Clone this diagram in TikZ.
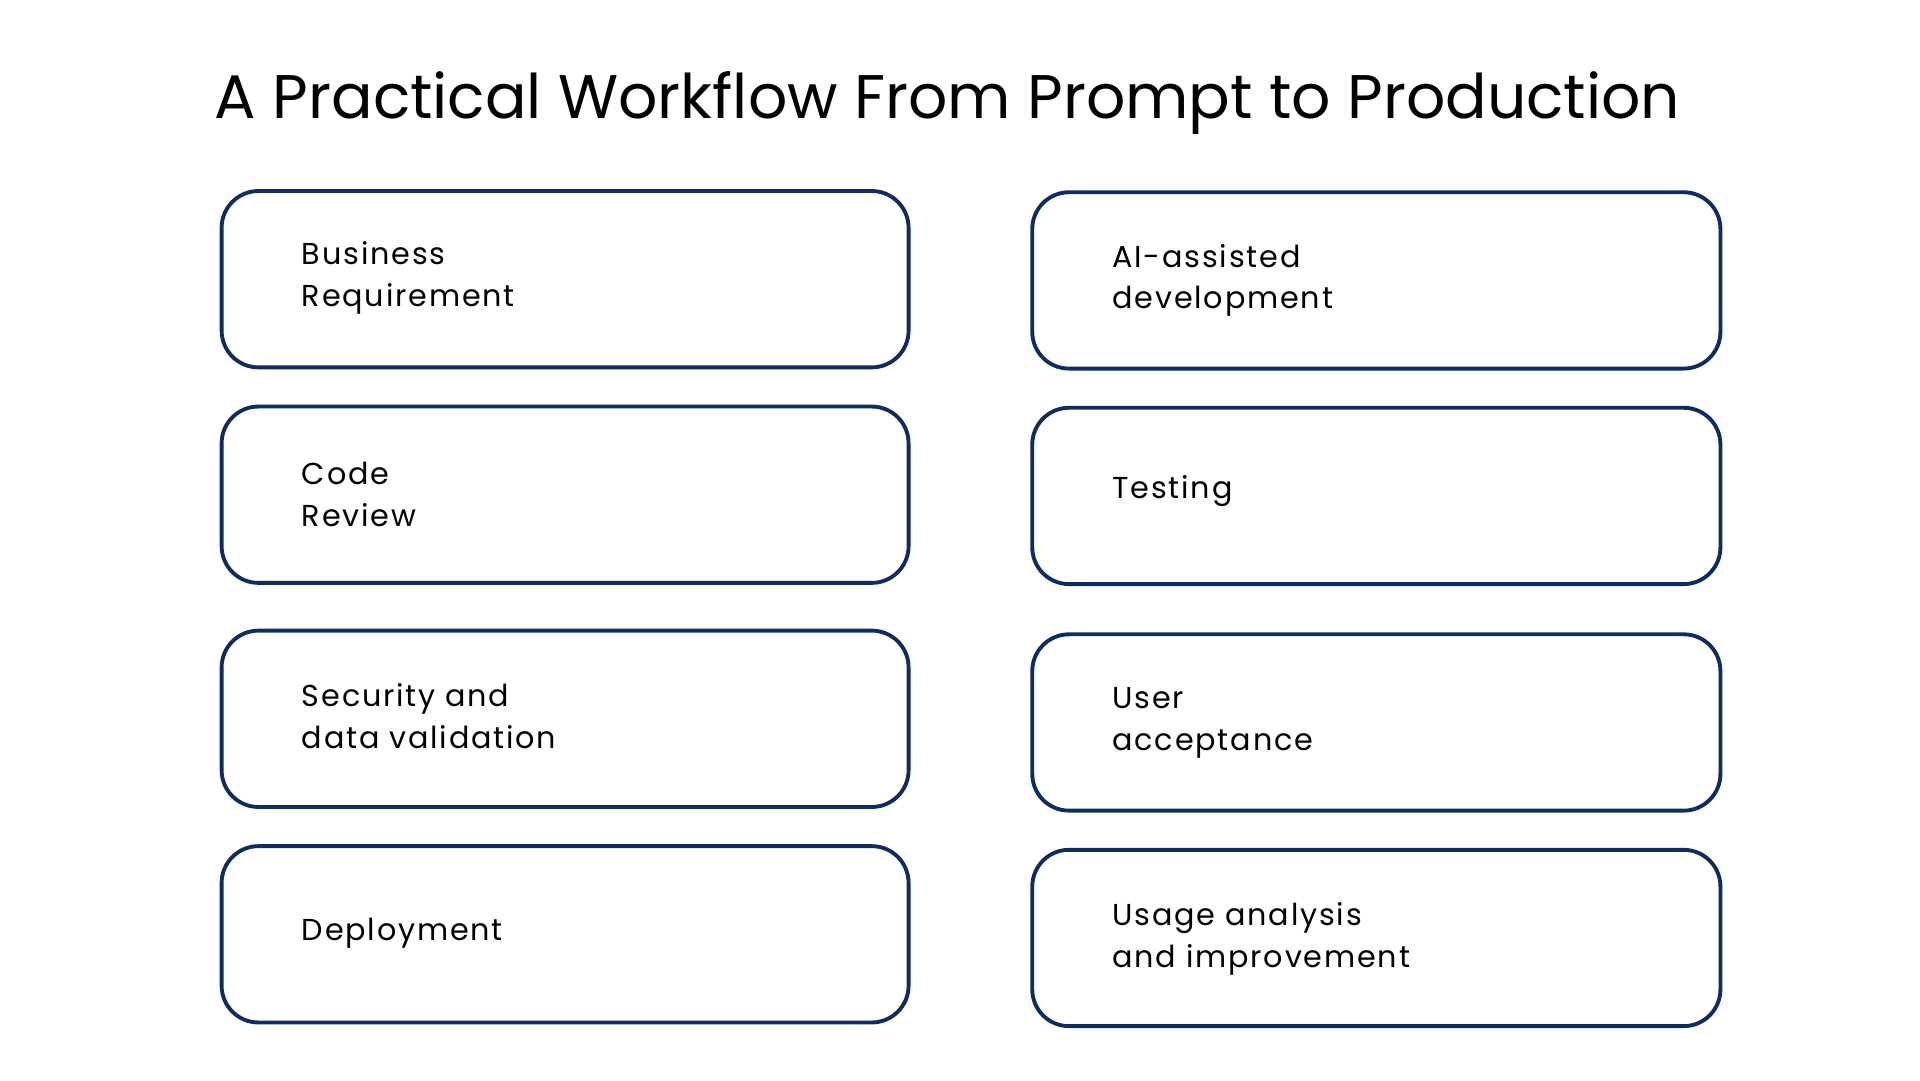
\documentclass[tikz,border=0pt]{standalone}
\usepackage{fontspec}
\setmainfont{Poppins}
\newfontfamily\boxfont[LetterSpace=6]{Poppins}
\definecolor{navy}{HTML}{0C2C63}
\begin{document}
\begin{tikzpicture}[x=0.012245cm,y=-0.012245cm,
  box/.style={draw=navy,line width=1.1pt,rounded corners=30*0.12245mm},
  lbl/.style={anchor=west,align=left,inner sep=0pt,font=\boxfont\fontsize{8.6}{11.9}\selectfont,text=black}]
\useasboundingbox (0,0) rectangle (1568,882);
\node[anchor=base west,inner sep=0pt,font=\fontsize{17.5}{21}\selectfont] (title) at (175,97) {A Practical Workflow From Prompt to Production};
\draw[box] (181,156) rectangle (742,300) node[midway] (b1) {};
\draw[box] (181,332) rectangle (742,476) node[midway] (b2) {};
\draw[box] (181,515) rectangle (742,659) node[midway] (b3) {};
\draw[box] (181,691) rectangle (742,835) node[midway] (b4) {};
\draw[box] (843,157) rectangle (1405,301) node[midway] (c1) {};
\draw[box] (843,333) rectangle (1405,477) node[midway] (c2) {};
\draw[box] (843,518) rectangle (1405,662) node[midway] (c3) {};
\draw[box] (843,694) rectangle (1405,838) node[midway] (c4) {};
\node[lbl] (t1) at (246,227) {Business\\Requirement};
\node[lbl] (t2) at (246,404) {Code\\Review};
\node[lbl] (t3) at (246,585) {Security and\\data validation};
\node[lbl] (t4) at (246,762) {Deployment};
\node[lbl] (u1) at (908,229) {AI-assisted\\development};
\node[lbl] (u2) at (908,401) {Testing};
\node[lbl] (u3) at (908,590) {User\\acceptance};
\node[lbl] (u4) at (908,767) {Usage analysis\\and improvement};
\end{tikzpicture}
\end{document}
